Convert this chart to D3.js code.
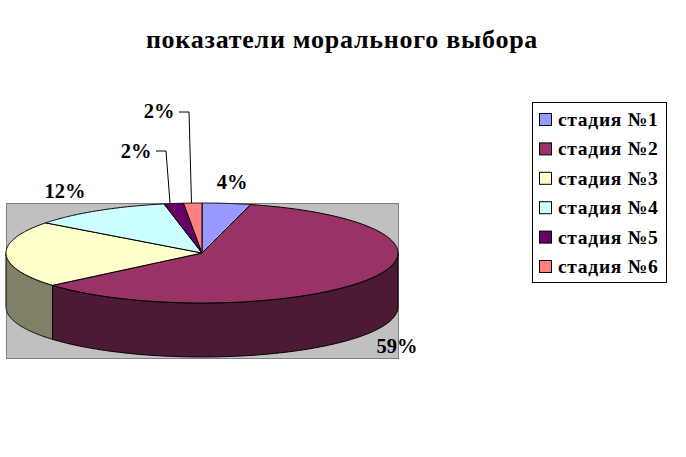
<!DOCTYPE html>
<html><head><meta charset="utf-8">
<script src="https://cdn.jsdelivr.net/npm/d3@7"></script>
<style>html,body{margin:0;padding:0;background:#fff}svg{display:block}text{font-family:"Liberation Serif",serif;font-weight:bold;fill:#000}</style>
</head><body><svg id="c" width="686" height="457"></svg>
<script>
const categories=["стадия №1","стадия №2","стадия №3","стадия №4","стадия №5","стадия №6"];
const values=[4,59.8,21.5,11.6,1.6,1.5];
const labels=["4%","59%","","12%","2%","2%"];
const colors=["#9999ff","#993366","#ffffcc","#ccffff","#660066","#ff8080"];
const sideColors=["#4d4d80","#4d1a33","#808066","#668080","#330033","#804040"];
const title="показатели морального выбора";

const svg=d3.select("#c");
const cx=202,cy=253,rx=196,ry=50,depth=54;
svg.append("text").attr("x",342).attr("y",48).attr("text-anchor","middle").attr("font-size",26).attr("letter-spacing",0.75).text(title);
svg.append("rect").attr("x",6.5).attr("y",203.5).attr("width",392).attr("height",155).attr("fill","#c0c0c0").attr("stroke","#808080");

const arcs=d3.pie().sort(null).value(d=>d)(values);
const px=d3.scaleLinear().domain([-1,1]).range([cx-rx,cx+rx]);
const py=d3.scaleLinear().domain([-1,1]).range([cy-ry,cy+ry]);
const pt=(a,o=0)=>[px(Math.sin(a)),py(-Math.cos(a))+o];
const rng=(a,b,n=90)=>d3.range(n+1).map(i=>a+(b-a)*i/n);
const line=d3.line();
arcs.forEach((d,i)=>{
  const a=Math.max(d.startAngle,Math.PI/2),b=Math.min(d.endAngle,3*Math.PI/2);
  if(b<=a)return;
  const top=rng(a,b).map(t=>pt(t)),bot=rng(b,a).map(t=>pt(t,depth));
  svg.append("path").attr("d",line(top.concat(bot))+"Z").attr("fill",sideColors[i]).attr("stroke","#000").attr("stroke-width",1);
});
arcs.forEach((d,i)=>{
  const pts=[[cx,cy]].concat(rng(d.startAngle,d.endAngle).map(t=>pt(t)));
  svg.append("path").attr("d",line(pts)+"Z").attr("fill",colors[i]).attr("stroke","#000").attr("stroke-width",1).attr("stroke-linejoin","round");
});
const labelPos=[[232,189],[397,353],null,[65,198],[136,158],[159,118]];
labels.forEach((t,i)=>{ if(!t)return;
  svg.append("text").attr("x",labelPos[i][0]).attr("y",labelPos[i][1]).attr("text-anchor","middle").attr("font-size",20.5).text(t);
});
[[[156,151],[166,151],[170,203]],[[179,112],[189,112],[191.5,203]]].forEach(p=>{
  svg.append("path").attr("d",line(p)).attr("fill","none").attr("stroke","#000").attr("stroke-width",1);
});
svg.append("rect").attr("x",532.5).attr("y",102.5).attr("width",134).attr("height",180).attr("fill","#fff").attr("stroke","#000");
const ly=d3.scalePoint().domain(categories).range([120,267]);
categories.forEach((c,i)=>{
  svg.append("rect").attr("x",539.5).attr("y",ly(c)-6.5).attr("width",12).attr("height",12).attr("fill",colors[i]).attr("stroke","#000");
  svg.append("text").attr("x",558).attr("y",ly(c)+6).attr("font-size",19.5).attr("letter-spacing",0.7).text(c);
});
</script></body></html>
